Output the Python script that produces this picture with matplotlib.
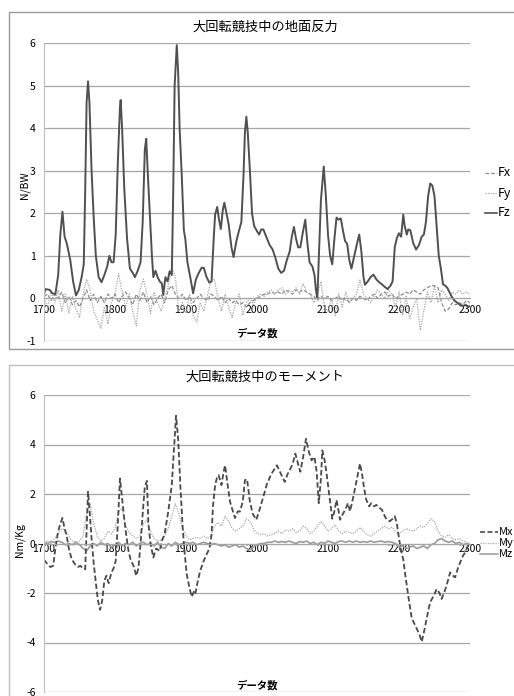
import matplotlib.pyplot as plt
import numpy as np
from matplotlib.lines import Line2D
from matplotlib.patches import Rectangle

plt.rcParams['font.family'] = ['Noto Sans CJK JP', 'DejaVu Sans']

# ground reaction force, Fz read at key points
fz_x = [1700, 1702, 1708, 1712, 1716, 1720, 1723, 1726, 1729, 1732, 1737, 1741, 1745, 1749, 1753, 1756,
        1758, 1760, 1762, 1764, 1767, 1770, 1773, 1777, 1781, 1785, 1789, 1792, 1795, 1798, 1801, 1804,
        1807, 1808, 1810, 1813, 1817, 1821, 1825, 1828, 1832, 1836, 1839, 1842, 1844, 1846, 1849, 1852,
        1854, 1857, 1860, 1863, 1866, 1868, 1871, 1874, 1877, 1880, 1882, 1884, 1887, 1889, 1891, 1894,
        1897, 1899, 1902, 1906, 1910, 1914, 1918, 1922, 1925, 1929, 1933, 1936, 1939, 1941, 1944, 1946,
        1949, 1952, 1954, 1957, 1960, 1964, 1967, 1971, 1974, 1978, 1981, 1983, 1985, 1987, 1990, 1993,
        1996, 2000, 2003, 2006, 2009, 2013, 2018, 2022, 2026, 2030, 2034, 2038, 2042, 2046, 2049, 2052,
        2055, 2058, 2061, 2064, 2068, 2071, 2074, 2078, 2081, 2083, 2085, 2087, 2090, 2094, 2097, 2100,
        2103, 2106, 2109, 2112, 2115, 2118, 2121, 2124, 2127, 2130, 2133, 2137, 2141, 2144, 2147, 2150,
        2152, 2156, 2160, 2164, 2168, 2172, 2176, 2180, 2184, 2188, 2191, 2194, 2197, 2200, 2203, 2206,
        2208, 2211, 2213, 2216, 2220, 2224, 2228, 2232, 2235, 2238, 2241, 2244, 2247, 2250, 2253, 2256,
        2259, 2262, 2265, 2268, 2271, 2274, 2278, 2282, 2286, 2290, 2294, 2297, 2300]
fz_y = [0.1, 0.22, 0.2, 0.12, 0.1, 0.55, 1.5, 2.04, 1.45, 1.3, 0.9, 0.4, 0.07, 0.2, 0.5, 0.8,
        2.5, 4.6, 5.1, 4.6, 3.0, 1.9, 1.0, 0.5, 0.38, 0.55, 0.75, 1.0, 0.85, 0.85, 1.5, 3.2,
        4.5, 4.66, 4.0, 2.6, 1.4, 0.7, 0.6, 0.5, 0.65, 0.85, 1.8, 3.5, 3.75, 3.0, 2.0, 1.0,
        0.5, 0.65, 0.5, 0.4, 0.35, 0.08, 0.5, 0.4, 0.64, 0.55, 2.5, 5.0, 5.95, 5.3, 4.0, 2.9,
        1.6, 1.4, 0.85, 0.5, 0.12, 0.45, 0.6, 0.72, 0.72, 0.5, 0.37, 0.4, 1.4, 1.97, 2.15, 1.9,
        1.63, 2.1, 2.25, 2.0, 1.75, 1.2, 0.97, 1.35, 1.55, 1.8, 2.9, 3.9, 4.27, 3.9, 3.0, 2.0,
        1.7, 1.58, 1.5, 1.62, 1.62, 1.45, 1.25, 1.15, 0.95, 0.7, 0.6, 0.65, 0.9, 1.1, 1.45, 1.68,
        1.4, 1.2, 1.2, 1.5, 1.85, 1.3, 0.85, 0.75, 0.55, 0.2, 0.0, 0.9, 2.3, 3.1, 2.4, 1.5,
        1.0, 0.8, 1.4, 1.9, 1.85, 1.88, 1.6, 1.35, 1.28, 0.9, 0.7, 1.0, 1.3, 1.5, 1.1, 0.5,
        0.32, 0.4, 0.5, 0.56, 0.45, 0.38, 0.33, 0.27, 0.22, 0.3, 0.4, 1.2, 1.42, 1.53, 1.45, 1.97,
        1.7, 1.5, 1.62, 1.6, 1.3, 1.15, 1.25, 1.45, 1.5, 1.8, 2.4, 2.7, 2.65, 2.4, 1.7, 1.0,
        0.7, 0.33, 0.3, 0.25, 0.15, 0.05, -0.05, -0.1, -0.15, -0.18, -0.15, -0.2, -0.18]

# Fx, Fy, My, Mz every 5 samples from 1700 to 2300
step_x = np.arange(1700, 2301, 5)
fx = [0.05, 0.1, -0.05, 0.1, 0.0, 0.15, -0.1, 0.05, -0.15, -0.05,
      -0.2, 0.0, 0.2, -0.05, 0.1, -0.1, 0.05, -0.1, 0.1, 0.0,
      0.1, -0.1, 0.05, 0.15, 0.0, -0.15, 0.1, -0.05, 0.15, -0.1,
      0.05, -0.15, 0.0, 0.1, -0.1, 0.2, 0.3, 0.1, 0.0, 0.1,
      -0.05, 0.05, -0.1, 0.0, 0.1, 0.0, -0.05, 0.1, 0.05, -0.05,
      0.05, -0.1, 0.0, -0.1, -0.05, -0.15, -0.1, -0.2, -0.1, -0.05,
      0.0, 0.05, 0.1, 0.1, 0.15, 0.12, 0.15, 0.1, 0.2, 0.15,
      0.1, 0.2, 0.15, 0.2, 0.15, 0.1, 0.05, -0.05, 0.05, 0.0,
      0.05, -0.05, 0.0, 0.05, -0.05, 0.0, -0.1, 0.0, -0.05, 0.05,
      0.0, -0.05, 0.05, 0.1, 0.0, 0.1, 0.15, 0.05, 0.1, 0.0,
      0.05, 0.1, 0.15, 0.1, 0.2, 0.15, 0.1, 0.2, 0.25, 0.3,
      0.3, 0.25, -0.1, -0.3, -0.25, -0.1, -0.15, -0.1, -0.15, -0.05,
      -0.1]
fy = [0.0, -0.2, 0.15, -0.1, 0.2, -0.3, 0.1, -0.35, 0.05, -0.25,
      -0.45, 0.1, 0.45, 0.2, -0.3, -0.5, -0.7, -0.2, -0.6, -0.1,
      0.1, 0.58, 0.15, -0.2, 0.1, -0.3, -0.65, 0.2, 0.45, 0.1,
      -0.35, 0.15, -0.1, -0.3, 0.0, 0.3, 0.75, 0.5, -0.3, -0.1,
      -0.35, 0.1, -0.4, -0.55, -0.1, -0.3, 0.05, 0.4, 0.45, 0.0,
      -0.3, 0.1, -0.2, -0.45, -0.1, 0.1, -0.4, -0.1, 0.0, -0.15,
      0.05, 0.1, 0.05, 0.15, 0.2, 0.1, 0.2, 0.25, 0.1, 0.2,
      0.15, 0.25, 0.1, 0.35, 0.15, 0.1, -0.1, 0.1, 0.4, -0.2,
      -0.3, 0.0, -0.4, 0.1, -0.2, 0.15, -0.1, 0.0, 0.1, 0.43,
      0.1, 0.0, -0.1, 0.05, 0.2, 0.1, 0.0, 0.2, 0.1, -0.2,
      0.15, -0.4, 0.05, -0.5, -0.2, 0.0, -0.75, -0.3, 0.15, -0.1,
      0.3, -0.1, 0.2, 0.1, -0.05, 0.15, 0.1, 0.2, 0.1, 0.15,
      0.1]

# moment, Mx read at key points
mx_x = [1700, 1704, 1709, 1713, 1716, 1720, 1723, 1726, 1729, 1732, 1735, 1739, 1744, 1748, 1751, 1755,
        1758, 1760, 1762, 1764, 1767, 1770, 1774, 1776, 1779, 1782, 1785, 1788, 1791, 1795, 1798, 1801,
        1804, 1807, 1810, 1813, 1816, 1819, 1822, 1826, 1830, 1833, 1836, 1839, 1842, 1845, 1847, 1850,
        1854, 1858, 1863, 1866, 1870, 1875, 1880, 1883, 1886, 1889, 1892, 1895, 1897, 1901, 1905, 1908,
        1911, 1913, 1916, 1920, 1925, 1929, 1933, 1936, 1938, 1941, 1944, 1946, 1950, 1953, 1955, 1958,
        1962, 1966, 1969, 1973, 1976, 1980, 1983, 1986, 1990, 1994, 1999, 2004, 2009, 2014, 2020, 2028,
        2034, 2039, 2043, 2046, 2050, 2054, 2058, 2061, 2065, 2069, 2073, 2077, 2081, 2084, 2087, 2090,
        2092, 2095, 2098, 2102, 2106, 2109, 2112, 2115, 2117, 2121, 2125, 2128, 2131, 2135, 2140, 2145,
        2148, 2151, 2154, 2158, 2161, 2165, 2168, 2172, 2176, 2180, 2183, 2187, 2191, 2194, 2197, 2200,
        2203, 2206, 2209, 2211, 2214, 2218, 2221, 2225, 2229, 2232, 2235, 2239, 2242, 2244, 2249, 2253,
        2257, 2260, 2264, 2267, 2272, 2276, 2279, 2283, 2286, 2290, 2293, 2297, 2300]
mx_y = [-0.65, -0.8, -0.95, -0.9, -0.2, 0.5, 0.8, 1.03, 0.6, 0.3, -0.2, -0.64, -0.85, -0.95, -0.9, -1.0,
        -1.04, 0.5, 2.09, 1.4, 0.2, -0.8, -1.84, -2.3, -2.68, -2.3, -1.5, -1.3, -1.6, -1.17, -1.0, -0.7,
        0.8, 2.63, 1.8, 1.0, 0.3, -0.3, -0.65, -0.9, -1.3, -1.0, 0.0, 1.2, 2.3, 2.53, 0.8, 0.0,
        -0.57, -0.2, -0.3, 0.1, 0.4, 1.29, 2.36, 3.8, 5.16, 4.2, 2.36, 0.8, -0.04, -1.24, -1.8, -2.15,
        -1.95, -2.05, -1.6, -1.1, -0.7, -0.44, -0.2, 0.36, 1.5, 2.36, 2.7, 2.76, 2.36, 2.9, 3.16, 2.5,
        1.69, 1.3, 1.03, 1.3, 1.29, 1.7, 2.56, 2.6, 1.69, 1.2, 0.96, 1.4, 1.9, 2.4, 2.8, 3.16,
        2.8, 2.49, 2.8, 2.96, 3.2, 3.63, 3.2, 2.9, 3.5, 4.23, 3.7, 3.36, 3.5, 2.9, 1.63, 2.6,
        3.76, 3.4, 2.83, 1.9, 1.0, 1.3, 1.76, 1.3, 0.96, 1.2, 1.4, 1.63, 1.3, 1.8, 2.5, 3.23,
        2.8, 2.2, 1.76, 1.5, 1.63, 1.5, 1.56, 1.45, 1.36, 1.1, 0.96, 0.9, 1.0, 1.1, 0.8, 0.2,
        -0.3, -0.64, -1.3, -1.7, -2.3, -3.04, -3.2, -3.44, -3.7, -3.97, -3.6, -3.04, -2.6, -2.37, -2.1, -1.84,
        -2.0, -2.24, -1.95, -1.7, -1.17, -1.3, -1.37, -1.0, -0.77, -0.5, -0.37, -0.1, 0.0]

my = [0.05, 0.1, 0.0, 0.2, 0.4, 0.6, 0.55, 0.3, 0.1, 0.05,
      0.1, 0.3, 1.2, 1.6, 0.8, 0.3, 0.1, 0.2, 0.5, 0.4,
      0.6, 1.3, 1.4, 0.7, 0.45, 0.3, 0.2, 0.3, 0.8, 0.95,
      0.5, 0.2, 0.1, 0.15, 0.3, 0.6, 1.1, 1.6, 1.2, 0.6,
      0.3, 0.15, 0.2, 0.25, 0.2, 0.3, 0.2, 0.3, 0.7, 0.85,
      0.7, 1.1, 0.9, 0.6, 0.5, 0.6, 0.7, 1.0, 0.9, 0.6,
      0.4, 0.35, 0.4, 0.3, 0.35, 0.4, 0.5, 0.4, 0.55, 0.5,
      0.6, 0.45, 0.5, 0.7, 0.6, 0.4, 0.5, 0.7, 0.9, 0.7,
      0.5, 0.6, 0.75, 0.5, 0.4, 0.5, 0.45, 0.4, 0.5, 0.65,
      0.5, 0.35, 0.3, 0.4, 0.5, 0.6, 0.7, 0.6, 0.65, 0.5,
      0.4, 0.5, 0.6, 0.55, 0.5, 0.6, 0.7, 0.65, 0.8, 1.0,
      0.9, 0.5, 0.3, 0.25, 0.35, 0.2, 0.15, 0.2, 0.1, 0.05,
      0.0]
mz = [0.05, 0.0, 0.08, 0.05, 0.1, 0.05, -0.05, 0.0, -0.05, 0.05,
      -0.05, -0.2, -0.3, -0.1, 0.0, -0.1, 0.05, -0.05, 0.0, -0.15,
      -0.05, 0.05, -0.1, 0.0, -0.05, 0.05, -0.1, 0.0, 0.05, -0.05,
      0.0, -0.1, 0.05, -0.15, -0.2, 0.0, -0.1, 0.05, -0.05, 0.0,
      0.05, 0.0, 0.05, -0.05, 0.0, 0.05, 0.0, -0.05, 0.0, -0.05,
      -0.1, -0.05, -0.15, -0.1, -0.05, -0.15, -0.1, -0.2, -0.25, -0.15,
      -0.05, 0.0, 0.0, 0.05, 0.05, 0.1, 0.05, 0.08, 0.05, 0.1,
      0.05, 0.0, 0.08, 0.05, 0.1, 0.0, 0.05, -0.05, 0.05, 0.0,
      0.1, 0.05, 0.0, 0.08, 0.1, 0.05, 0.1, 0.05, 0.1, 0.05,
      0.08, 0.05, 0.1, 0.05, 0.08, 0.1, 0.05, 0.08, 0.05, 0.0,
      -0.15, -0.1, -0.2, -0.15, -0.1, -0.2, -0.15, -0.1, -0.2, -0.05,
      0.0, 0.15, 0.2, 0.1, 0.05, 0.1, 0.0, 0.05, -0.05, 0.0,
      -0.05]

x_ticks = [1700, 1800, 1900, 2000, 2100, 2200, 2300]

W, H = 514, 696
fig = plt.figure(figsize=(W / 100, H / 100), dpi=100)
grid_c = '#a6a6a6'


def fx_(px):
    return px / W


def fy_(py):
    return 1 - py / H


def setup(ax, ymin, ymax, ystep, pad):
    ax.set_xlim(1700, 2300)
    ax.set_ylim(ymin, ymax)
    for v in np.arange(ymin, ymax + 0.01, ystep):
        ax.axhline(v, color=grid_c, lw=0.9, zorder=0)
    for s in ['top', 'right']:
        ax.spines[s].set_visible(False)
    ax.spines['left'].set_color('#bfbfbf')
    ax.spines['bottom'].set_position(('data', 0))
    ax.spines['bottom'].set_color(grid_c)
    ax.set_xticks(x_ticks)
    ax.set_yticks(np.arange(ymin, ymax + 0.01, ystep))
    ax.yaxis.set_major_formatter(plt.FuncFormatter(lambda v, p: '%d' % v))
    ax.tick_params(axis='x', length=0, pad=pad, labelsize=7.5)
    ax.tick_params(axis='y', length=0, pad=6, labelsize=7.5)
    ax.patch.set_alpha(0)


# chart frames
fig.add_artist(Rectangle((fx_(9), fy_(349)), 1.1, fy_(12) - fy_(349), transform=fig.transFigure,
                         fill=False, edgecolor='#9a9a9a', lw=1))
fig.add_artist(Rectangle((fx_(9), -0.1), 1.1, fy_(365) + 0.1, transform=fig.transFigure,
                         fill=False, edgecolor='#c0c0c0', lw=1))

# top chart
ax1 = fig.add_axes([fx_(44), fy_(341), fx_(470) - fx_(44), fy_(43) - fy_(341)])
setup(ax1, -1, 6, 1, 5)
ax1.plot(step_x, fx, color='#8c8c8c', lw=0.9, ls=(0, (3, 1.5)))
ax1.plot(step_x, fy, color='#a8a8a8', lw=0.9, ls=(0, (1, 1)))
ax1.plot(fz_x, fz_y, color='#505050', lw=1.4)
ax1.text(0.5, 0.027, 'データ数', transform=ax1.transAxes, ha='center', va='center', fontsize=7.5,
         fontweight='bold')
fig.text(fx_(265), fy_(27), '大回転競技中の地面反力', ha='center', va='center', fontsize=9.5)
fig.text(fx_(25), fy_(185), 'N/BW', rotation=90, ha='center', va='center', fontsize=7.5)

# bottom chart
ax2 = fig.add_axes([fx_(44), fy_(692), fx_(470) - fx_(44), fy_(395) - fy_(692)])
setup(ax2, -6, 6, 2, 0)
ax2.plot(step_x, mz, color='#9a9a9a', lw=1.2)
ax2.plot(step_x, my, color='#a8a8a8', lw=0.9, ls=(0, (1, 1)))
ax2.plot(mx_x, mx_y, color='#4a4a4a', lw=1.3, ls=(0, (3, 1.5)))
ax2.text(0.5, 0.022, 'データ数', transform=ax2.transAxes, ha='center', va='center', fontsize=7.5,
         fontweight='bold')
fig.text(fx_(265), fy_(377), '大回転競技中のモーメント', ha='center', va='center', fontsize=9.5)
fig.text(fx_(20), fy_(540), 'Nm/Kg', rotation=90, ha='center', va='center', fontsize=7.5)

# legends drawn by hand, they run off the right edge
legend_top = [('Fx', 173, '#8c8c8c', 0.9, (0, (3, 1.5))),
              ('Fy', 193, '#a8a8a8', 0.9, (0, (1, 1))),
              ('Fz', 213, '#505050', 1.2, '-')]
legend_bot = [('Mx', 532, '#4a4a4a', 1.2, (0, (3, 1.5))),
              ('My', 543, '#a8a8a8', 0.9, (0, (1, 1))),
              ('Mz', 554, '#9a9a9a', 1.1, '-')]
for items, x0, x1, fs in [(legend_top, 485, 497, 9), (legend_bot, 480, 498, 8)]:
    for name, py, c, lw, ls in items:
        fig.add_artist(Line2D([fx_(x0), fx_(x1)], [fy_(py), fy_(py)], transform=fig.transFigure,
                              color=c, lw=lw, ls=ls))
        fig.text(fx_(x1 + 1), fy_(py), name, ha='left', va='center', fontsize=fs)

fig.savefig('out.png', dpi=100)
